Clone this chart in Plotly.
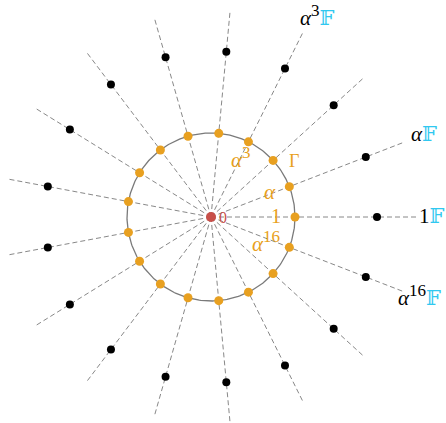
import math
import plotly.graph_objects as go

# 17th roots of unity: ray index k lies at angle 2*pi*k/17
n_rays = 17
ray_index = list(range(n_rays))
circle_radius = 84      # unit circle Gamma
outer_radius = 166      # scaled copies (black points)
ray_length = [206] * n_rays
for k in (0, 1, 3, 16):
    ray_length[k] = 208

ORANGE = "#E8A020"
CYAN = "#30C8F0"
RED = "#C8504A"
GRAY = "#888888"

def pt(k, r):
    a = 2 * math.pi * k / n_rays
    return r * math.cos(a), r * math.sin(a)

fig = go.Figure()

# dashed rays through the origin
lx, ly = [], []
for k in ray_index:
    x, y = pt(k, ray_length[k])
    lx += [0, x, None]
    ly += [0, y, None]
fig.add_trace(go.Scatter(x=lx, y=ly, mode="lines",
                         line=dict(color=GRAY, width=1, dash="5px,3px"),
                         hoverinfo="skip"))

# circle Gamma
t = [2 * math.pi * i / 360 for i in range(361)]
fig.add_trace(go.Scatter(x=[circle_radius * math.cos(a) for a in t],
                         y=[circle_radius * math.sin(a) for a in t],
                         mode="lines", line=dict(color="#7a7a7a", width=1.3),
                         hoverinfo="skip"))

# points on the circle
cx, cy = zip(*[pt(k, circle_radius) for k in ray_index])
fig.add_trace(go.Scatter(x=cx, y=cy, mode="markers",
                         marker=dict(color=ORANGE, size=9)))

# outer black points
ox, oy = zip(*[pt(k, outer_radius) for k in ray_index])
fig.add_trace(go.Scatter(x=ox, y=oy, mode="markers",
                         marker=dict(color="black", size=8)))

# origin
fig.add_trace(go.Scatter(x=[0], y=[0], mode="markers",
                         marker=dict(color=RED, size=10)))

F = f"<span style='color:{CYAN};font-size:21px'>𝔽</span>"
serif = "Liberation Serif, DejaVu Serif, serif"

def sup(s):
    return f"<sup><span style='font-size:17px'>{s}</span></sup>"

def lab(px, py, text, color, size=21):
    fig.add_annotation(x=px - 211, y=217 - py, text=text, showarrow=False,
                       font=dict(family=serif, size=size, color=color),
                       xanchor="center", yanchor="middle")

lab(432, 216, "1" + F, "black")
lab(424, 134, "<i>α</i>" + F, "black")
lab(317, 15, "<i>α</i>" + sup("3") + F, "black")
lab(419, 295, "<i>α</i>" + sup("16") + F, "black")

lab(241, 157, "<i>α</i>" + sup("3"), ORANGE)
lab(294, 161, "Γ", ORANGE, 18)
lab(270, 192, "<i>α</i>", ORANGE)
lab(276, 216, "1", ORANGE, 20)
lab(266, 241, "<i>α</i>" + sup("16"), ORANGE)
lab(223, 217, "0", RED, 16)

fig.update_layout(
    width=446, height=423,
    margin=dict(l=0, r=0, t=0, b=0),
    plot_bgcolor="white", paper_bgcolor="white",
    showlegend=False,
    xaxis=dict(range=[-211, 235], visible=False, fixedrange=True),
    yaxis=dict(range=[-206, 217], visible=False, fixedrange=True),
)

fig.write_html("out.html")
